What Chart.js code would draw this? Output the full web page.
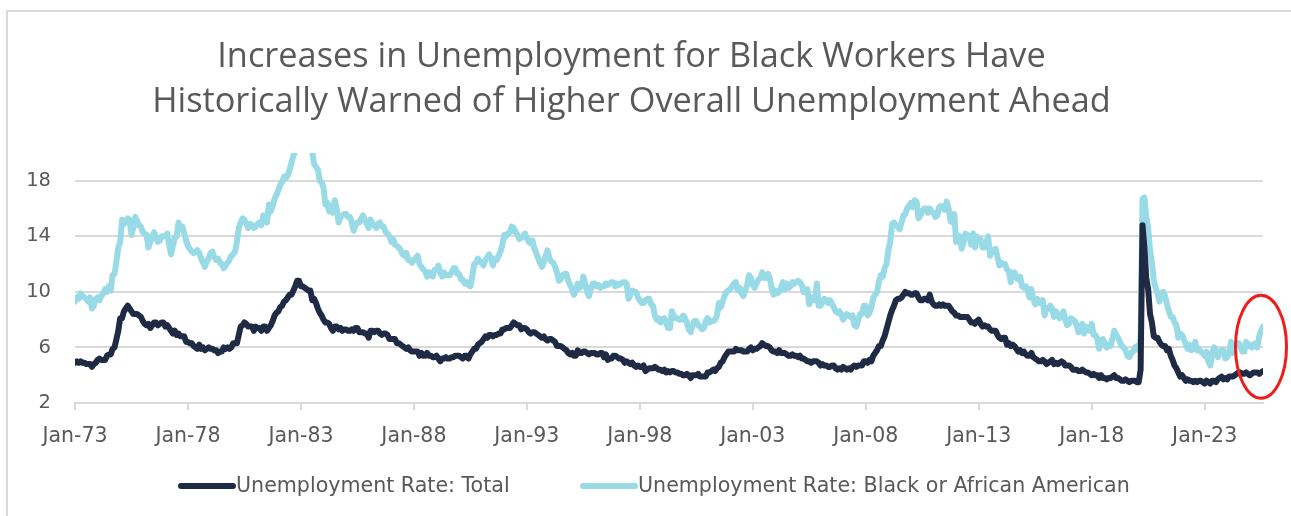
<!DOCTYPE html>
<html>
<head>
<meta charset="utf-8">
<script src="https://cdn.jsdelivr.net/npm/chart.js@4.4.1/dist/chart.umd.min.js"></script>
<style>
  html, body { margin: 0; padding: 0; background: #ffffff; }
  #wrap { position: relative; width: 1291px; height: 516px; }
  canvas { display: block; }
</style>
</head>
<body>
<div id="wrap"><canvas id="c" width="1291" height="516"></canvas></div>
<script>
// ---- DATA ----
const monthNames = ['Jan','Feb','Mar','Apr','May','Jun','Jul','Aug','Sep','Oct','Nov','Dec'];
const startYear = 1973;
const endYear = 2025, endMonthIndex = 7; // Aug 2025

const seriesNames = ['Unemployment Rate: Total', 'Unemployment Rate: Black or African American'];

// Unemployment Rate: Total (%), monthly Jan-73 .. Aug-25
const totalRate = [
  4.9,5.0,4.9,5.0,4.9,4.9,4.8,4.8,4.8,4.6,4.8,4.9, // 1973
  5.1,5.2,5.1,5.1,5.1,5.4,5.5,5.5,5.9,6.0,6.6,7.2, // 1974
  8.1,8.1,8.6,8.8,9.0,8.8,8.6,8.4,8.4,8.4,8.3,8.2, // 1975
  7.9,7.7,7.6,7.7,7.4,7.6,7.8,7.8,7.6,7.7,7.8,7.8, // 1976
  7.5,7.6,7.4,7.2,7.0,7.2,6.9,7.0,6.8,6.8,6.8,6.4, // 1977
  6.4,6.3,6.3,6.1,6.0,5.9,6.2,5.9,6.0,5.8,5.9,6.0, // 1978
  5.9,5.9,5.8,5.8,5.6,5.7,5.7,6.0,5.9,6.0,5.9,6.0, // 1979
  6.3,6.3,6.3,6.9,7.5,7.6,7.8,7.7,7.5,7.5,7.5,7.2, // 1980
  7.5,7.4,7.4,7.2,7.5,7.5,7.2,7.4,7.6,7.9,8.3,8.5, // 1981
  8.6,8.9,9.0,9.3,9.4,9.6,9.8,9.8,10.1,10.4,10.8,10.8, // 1982
  10.4,10.4,10.3,10.2,10.1,10.1,9.4,9.5,9.2,8.8,8.5,8.3, // 1983
  8.0,7.8,7.8,7.7,7.4,7.2,7.5,7.5,7.3,7.4,7.2,7.3, // 1984
  7.3,7.2,7.2,7.3,7.2,7.4,7.4,7.1,7.1,7.1,7.0,7.0, // 1985
  6.7,7.2,7.2,7.1,7.2,7.2,7.0,6.9,7.0,7.0,6.9,6.6, // 1986
  6.6,6.6,6.6,6.3,6.3,6.2,6.1,6.0,5.9,6.0,5.8,5.7, // 1987
  5.7,5.7,5.7,5.4,5.6,5.4,5.4,5.6,5.4,5.4,5.3,5.3, // 1988
  5.4,5.2,5.0,5.2,5.2,5.3,5.2,5.2,5.3,5.3,5.4,5.4, // 1989
  5.4,5.3,5.2,5.4,5.4,5.2,5.5,5.7,5.9,5.9,6.2,6.3, // 1990
  6.4,6.6,6.8,6.7,6.9,6.9,6.8,6.9,6.9,7.0,7.0,7.3, // 1991
  7.3,7.4,7.4,7.4,7.6,7.8,7.7,7.6,7.6,7.3,7.4,7.4, // 1992
  7.3,7.1,7.0,7.1,7.1,7.0,6.9,6.8,6.7,6.8,6.6,6.5, // 1993
  6.6,6.6,6.5,6.4,6.1,6.1,6.1,6.0,5.9,5.8,5.6,5.5, // 1994
  5.6,5.4,5.4,5.8,5.6,5.6,5.7,5.7,5.6,5.5,5.6,5.6, // 1995
  5.6,5.5,5.5,5.6,5.6,5.3,5.5,5.1,5.2,5.2,5.4,5.4, // 1996
  5.3,5.2,5.2,5.1,4.9,5.0,4.9,4.8,4.9,4.7,4.6,4.7, // 1997
  4.6,4.6,4.7,4.3,4.4,4.5,4.5,4.5,4.6,4.5,4.4,4.4, // 1998
  4.3,4.4,4.2,4.3,4.2,4.3,4.3,4.2,4.2,4.1,4.1,4.0, // 1999
  4.0,4.1,4.0,3.8,4.0,4.0,4.0,4.1,3.9,3.9,3.9,3.9, // 2000
  4.2,4.2,4.3,4.4,4.3,4.5,4.6,4.9,5.0,5.3,5.5,5.7, // 2001
  5.7,5.7,5.7,5.9,5.8,5.8,5.8,5.7,5.7,5.7,5.9,6.0, // 2002
  5.8,5.9,5.9,6.0,6.1,6.3,6.2,6.1,6.1,6.0,5.8,5.7, // 2003
  5.7,5.6,5.8,5.6,5.6,5.6,5.5,5.4,5.4,5.5,5.4,5.4, // 2004
  5.3,5.4,5.2,5.2,5.1,5.0,5.0,4.9,5.0,5.0,5.0,4.9, // 2005
  4.7,4.8,4.7,4.7,4.6,4.6,4.7,4.7,4.5,4.4,4.5,4.4, // 2006
  4.6,4.5,4.4,4.5,4.4,4.6,4.7,4.6,4.7,4.7,4.7,5.0, // 2007
  5.0,4.9,5.1,5.0,5.4,5.6,5.8,6.1,6.1,6.5,6.8,7.3, // 2008
  7.8,8.3,8.7,9.0,9.4,9.5,9.5,9.6,9.8,10.0,9.9,9.9, // 2009
  9.8,9.8,9.9,9.9,9.6,9.4,9.4,9.5,9.5,9.4,9.8,9.3, // 2010
  9.1,9.0,9.0,9.1,9.0,9.1,9.0,9.0,9.0,8.8,8.6,8.5, // 2011
  8.3,8.3,8.2,8.2,8.2,8.2,8.2,8.0,7.8,7.8,7.7,7.9, // 2012
  8.0,7.7,7.5,7.6,7.5,7.5,7.3,7.2,7.2,7.2,6.9,6.7, // 2013
  6.6,6.7,6.7,6.2,6.3,6.1,6.2,6.1,5.9,5.7,5.8,5.6, // 2014
  5.7,5.5,5.4,5.4,5.6,5.3,5.2,5.1,5.0,5.0,5.1,5.0, // 2015
  4.8,4.9,5.0,5.1,4.8,4.9,4.8,4.9,5.0,4.9,4.7,4.7, // 2016
  4.7,4.6,4.4,4.4,4.4,4.3,4.3,4.4,4.3,4.2,4.2,4.1, // 2017
  4.0,4.1,4.0,4.0,3.8,4.0,3.8,3.8,3.7,3.8,3.8,3.9, // 2018
  4.0,3.8,3.8,3.7,3.6,3.6,3.7,3.6,3.5,3.6,3.6,3.6, // 2019
  3.5,3.5,4.4,14.8,13.2,11.0,10.2,8.4,7.8,6.8,6.7,6.7, // 2020
  6.4,6.2,6.1,6.1,5.8,5.9,5.4,5.1,4.7,4.5,4.2,3.9, // 2021
  4.0,3.8,3.6,3.7,3.6,3.6,3.5,3.6,3.5,3.6,3.6,3.5, // 2022
  3.4,3.6,3.5,3.4,3.6,3.6,3.5,3.7,3.8,3.9,3.7,3.8, // 2023
  3.7,3.9,3.9,3.9,4.0,4.1,4.2,4.2,4.1,4.1,4.2,4.1, // 2024
  4.0,4.1,4.2,4.2,4.2,4.1,4.2,4.3                  // 2025
];

// Unemployment Rate: Black or African American (%), monthly Jan-73 .. Aug-25
const blackRate = [
  9.3,9.6,9.5,9.9,9.7,9.6,9.5,9.3,9.6,8.8,9.0,9.5, // 1973
  9.6,9.4,9.7,9.9,10.2,10.0,10.4,10.1,11.2,11.3,12.2,13.2, // 1974
  13.6,15.2,14.9,15.0,15.3,15.2,14.1,14.6,15.4,15.1,14.8,14.7, // 1975
  14.3,14.2,14.1,13.2,13.6,14.0,14.3,13.9,13.6,13.7,14.0,14.0, // 1976
  14.0,14.2,13.4,12.7,13.3,13.9,14.0,15.0,14.6,14.7,14.2,13.7, // 1977
  13.3,13.1,12.9,12.8,12.9,13.0,12.8,12.4,12.1,11.8,12.2,12.4, // 1978
  12.8,12.9,12.5,12.3,12.4,12.1,12.0,11.7,11.9,12.1,12.3,12.6, // 1979
  12.7,12.9,13.6,14.6,15.0,15.3,15.2,14.9,14.6,14.9,14.8,14.6, // 1980
  14.7,14.9,15.0,14.8,15.5,15.2,15.0,16.3,15.8,16.2,16.7,17.0, // 1981
  17.3,17.7,17.9,18.3,18.2,18.4,18.8,19.3,19.8,20.2,20.3,20.8, // 1982
  20.9,20.5,20.4,20.6,20.5,20.4,20.1,19.2,19.0,18.8,18.0,17.9, // 1983
  17.5,16.3,16.4,15.8,16.2,15.7,16.6,16.0,15.0,15.4,15.5,15.6, // 1984
  15.6,15.4,15.4,15.0,14.4,14.8,15.0,15.0,15.3,15.5,15.2,14.9, // 1985
  14.6,15.2,14.9,14.8,14.6,14.9,15.0,14.7,14.7,14.3,14.2,14.0, // 1986
  13.6,13.8,13.4,13.3,13.2,13.0,12.7,12.6,12.8,12.3,12.3,12.1, // 1987
  12.3,12.4,12.6,12.0,11.8,11.6,11.5,11.1,11.4,11.3,11.1,11.6, // 1988
  11.6,11.9,11.4,11.1,11.4,11.2,11.2,11.2,11.4,11.7,11.7,11.3, // 1989
  11.3,10.9,10.9,10.6,10.7,10.5,10.4,11.1,12.0,12.1,12.4,12.2, // 1990
  12.1,11.9,12.3,12.5,12.7,12.4,11.9,12.4,12.3,12.6,12.9,13.4, // 1991
  14.1,14.0,14.2,14.3,14.7,14.6,14.3,14.1,13.8,13.9,14.0,14.2, // 1992
  13.9,13.6,13.5,13.7,13.1,12.8,12.4,12.1,11.8,12.1,12.6,13.0, // 1993
  12.4,12.2,12.1,11.8,11.4,10.8,10.9,11.2,11.3,11.3,10.8,10.5, // 1994
  10.2,9.8,10.1,10.6,10.3,10.4,11.1,10.6,10.0,9.7,10.2,10.6, // 1995
  10.6,10.4,10.5,10.3,10.4,10.4,10.6,10.5,10.6,10.7,10.7,10.4, // 1996
  10.6,10.5,10.6,10.7,10.7,10.6,9.5,9.8,10.1,10.0,10.0,9.6, // 1997
  9.4,9.2,9.2,9.4,9.5,9.5,9.1,9.0,8.3,8.0,8.1,7.8, // 1998
  8.0,8.1,7.8,7.4,7.4,8.6,8.3,8.1,8.1,8.0,8.0,8.3, // 1999
  8.1,7.8,7.3,7.1,7.6,7.9,7.9,7.6,7.5,7.3,7.4,7.9, // 2000
  8.1,7.8,7.9,7.9,8.0,8.3,9.2,8.9,9.3,9.7,10.0,10.1, // 2001
  10.2,10.4,10.6,10.7,10.1,10.3,9.9,9.7,10.1,10.5,11.2,11.0, // 2002
  10.5,10.3,10.6,10.9,11.0,11.4,11.0,11.0,11.3,11.0,10.3,9.8, // 2003
  10.1,9.9,10.0,10.3,10.7,10.2,10.6,10.3,10.4,10.7,10.6,10.7, // 2004
  10.8,10.7,10.5,10.0,10.1,10.2,9.1,9.6,9.4,9.4,10.6,9.0, // 2005
  9.0,9.3,9.5,9.4,9.2,9.4,9.2,8.9,8.6,8.5,8.6,8.4, // 2006
  8.0,8.2,8.4,8.3,8.2,8.3,7.6,7.5,8.0,8.4,8.4,9.0, // 2007
  9.0,8.3,8.5,8.9,9.6,9.8,10.0,10.7,11.2,11.1,11.7,12.0, // 2008
  13.0,13.6,14.9,15.0,14.8,14.7,14.5,15.0,15.5,15.6,16.0,16.2, // 2009
  16.4,16.1,16.6,16.5,15.3,15.5,15.8,16.0,16.0,15.7,16.0,15.8, // 2010
  15.7,15.4,15.5,16.1,16.2,16.1,15.9,16.5,16.0,15.1,15.0,15.6, // 2011
  13.6,14.0,14.0,13.1,13.6,14.2,14.1,14.0,13.4,14.2,13.2,14.0, // 2012
  13.8,13.8,13.2,13.2,13.5,14.0,12.6,12.9,13.0,13.1,12.5,11.9, // 2013
  12.1,12.0,12.0,11.6,11.5,10.7,11.4,11.4,11.0,10.9,11.1,10.4, // 2014
  10.3,10.4,10.1,9.6,10.2,9.5,9.1,9.5,9.2,9.2,9.4,8.3, // 2015
  8.8,8.8,9.0,8.8,8.2,8.6,8.4,8.1,8.3,8.6,8.0,7.6, // 2016
  7.7,8.1,8.0,7.9,7.6,7.1,7.4,7.7,7.0,7.5,7.3,7.2, // 2017
  7.7,6.9,6.9,6.6,5.9,6.5,6.6,6.3,6.0,6.2,6.1,6.6, // 2018
  7.2,6.9,6.7,6.4,6.1,6.0,5.8,5.4,5.3,5.6,5.7,6.0, // 2019
  6.1,5.8,6.7,16.7,16.8,15.4,14.6,13.0,12.1,10.8,10.3,9.9, // 2020
  9.3,9.9,10.0,9.7,9.1,8.6,8.2,8.2,7.8,7.6,6.7,7.0, // 2021
  6.9,6.6,6.2,5.9,6.2,5.8,6.0,6.4,5.8,5.9,5.7,5.6, // 2022
  5.4,5.7,5.0,4.7,5.6,6.0,5.8,5.3,5.6,5.8,5.8,5.2, // 2023
  5.3,5.6,6.4,5.6,6.1,6.3,6.3,6.1,5.7,5.7,6.4,6.1, // 2024
  6.2,6.0,6.2,6.3,6.0,6.8,7.2,7.5                  // 2025
];

const yTickValues = [2, 6, 10, 14, 18];
const xTickLabels = ['Jan-73','Jan-78','Jan-83','Jan-88','Jan-93','Jan-98','Jan-03','Jan-08','Jan-13','Jan-18','Jan-23'];
const titleLines = ['Increases in Unemployment for Black Workers Have', 'Historically Warned of Higher Overall Unemployment Ahead'];

// month categories
const categories = [];
for (let y = startYear; y <= endYear; y++) {
  for (let m = 0; m < 12; m++) {
    if (y === endYear && m > endMonthIndex) break;
    categories.push(monthNames[m] + '-' + String(y).slice(2));
  }
}

// ---- STYLE ----
const NAVY = '#1f2a44';
const SKY = '#98dae6';
const TEXT = '#595959';
const GRID = '#d9d9d9';

const framePlugin = {
  id: 'frame',
  beforeDraw(chart) {
    const ctx = chart.ctx;
    ctx.save();
    ctx.fillStyle = '#ffffff';
    ctx.fillRect(0, 0, chart.width, chart.height);
    ctx.strokeStyle = GRID;
    ctx.lineWidth = 2;
    ctx.beginPath();
    ctx.moveTo(7, chart.height);
    ctx.lineTo(7, 11);
    ctx.lineTo(chart.width, 11);
    ctx.stroke();
    ctx.restore();
  }
};

const legendPlugin = {
  id: 'customLegend',
  afterDraw(chart) {
    const ctx = chart.ctx;
    const items = chart.data.datasets.map(ds => ({ label: ds.label, color: ds.borderColor }));
    const starts = [178, 580];
    const y = 486;
    ctx.save();
    ctx.font = '20.6px "DejaVu Sans"';
    ctx.textBaseline = 'middle';
    ctx.textAlign = 'left';
    items.forEach((it, i) => {
      const x0 = starts[i];
      ctx.strokeStyle = it.color;
      ctx.lineWidth = 6;
      ctx.lineCap = 'round';
      ctx.beginPath();
      ctx.moveTo(x0 + 3, y);
      ctx.lineTo(x0 + 55, y);
      ctx.stroke();
      ctx.fillStyle = TEXT;
      ctx.fillText(it.label, x0 + 58, y + 1);
    });
    ctx.restore();
  }
};

const ellipsePlugin = {
  id: 'ellipse',
  afterDatasetsDraw(chart) {
    const xs = chart.scales.x, ys = chart.scales.y;
    const cx = xs.getPixelForValue(categories.length - 1) - 2;
    const cy = ys.getPixelForValue(6.05);
    const ctx = chart.ctx;
    ctx.save();
    ctx.strokeStyle = '#ee1c1c';
    ctx.lineWidth = 3;
    ctx.beginPath();
    ctx.ellipse(cx, cy, 25.5, 51.5, 0, 0, Math.PI * 2);
    ctx.stroke();
    ctx.restore();
  }
};

new Chart(document.getElementById('c'), {
  type: 'line',
  data: {
    labels: categories,
    datasets: [
      {
        label: seriesNames[0],
        data: totalRate,
        borderColor: NAVY,
        backgroundColor: NAVY,
        borderWidth: 6,
        pointRadius: 0,
        tension: 0,
        borderJoinStyle: 'round',
        borderCapStyle: 'round',
        clip: 0
      },
      {
        label: seriesNames[1],
        data: blackRate,
        borderColor: SKY,
        backgroundColor: SKY,
        borderWidth: 6,
        pointRadius: 0,
        tension: 0,
        borderJoinStyle: 'round',
        borderCapStyle: 'round',
        clip: 0
      }
    ]
  },
  options: {
    responsive: false,
    animation: false,
    devicePixelRatio: 1,
    layout: { padding: { left: 0, right: 28, top: 0, bottom: 63 } },
    plugins: {
      legend: { display: false },
      tooltip: { enabled: false },
      title: {
        display: true,
        text: titleLines,
        color: TEXT,
        font: { family: '"Open Sans", "Liberation Sans", sans-serif', size: 34.3, weight: 'normal', lineHeight: 45 / 34.3 },
        padding: { top: 35, bottom: 28 }
      }
    },
    scales: {
      x: {
        type: 'category',
        offset: false,
        afterBuildTicks(scale) {
          scale.ticks = scale.ticks.filter(t => xTickLabels.includes(categories[t.value]));
        },
        afterFit(scale) { scale.height = 50; },
        grid: { display: true, drawOnChartArea: false, drawTicks: true, tickLength: 7, color: GRID, lineWidth: 2 },
        border: { display: true, color: GRID, width: 2 },
        ticks: {
          autoSkip: false,
          maxRotation: 0,
          minRotation: 0,
          padding: 14,
          color: TEXT,
          font: { family: '"DejaVu Sans", sans-serif', size: 20.5 }
        }
      },
      y: {
        min: 2,
        max: 20,
        afterBuildTicks(scale) {
          scale.ticks = yTickValues.map(v => ({ value: v }));
        },
        afterFit(scale) { scale.width = 75; },
        grid: { color: GRID, lineWidth: 2, drawTicks: false },
        border: { display: false },
        ticks: {
          padding: 24,
          color: TEXT,
          font: { family: '"DejaVu Sans", sans-serif', size: 19.5 }
        }
      }
    }
  },
  plugins: [framePlugin, legendPlugin, ellipsePlugin]
});
</script>
</body>
</html>
